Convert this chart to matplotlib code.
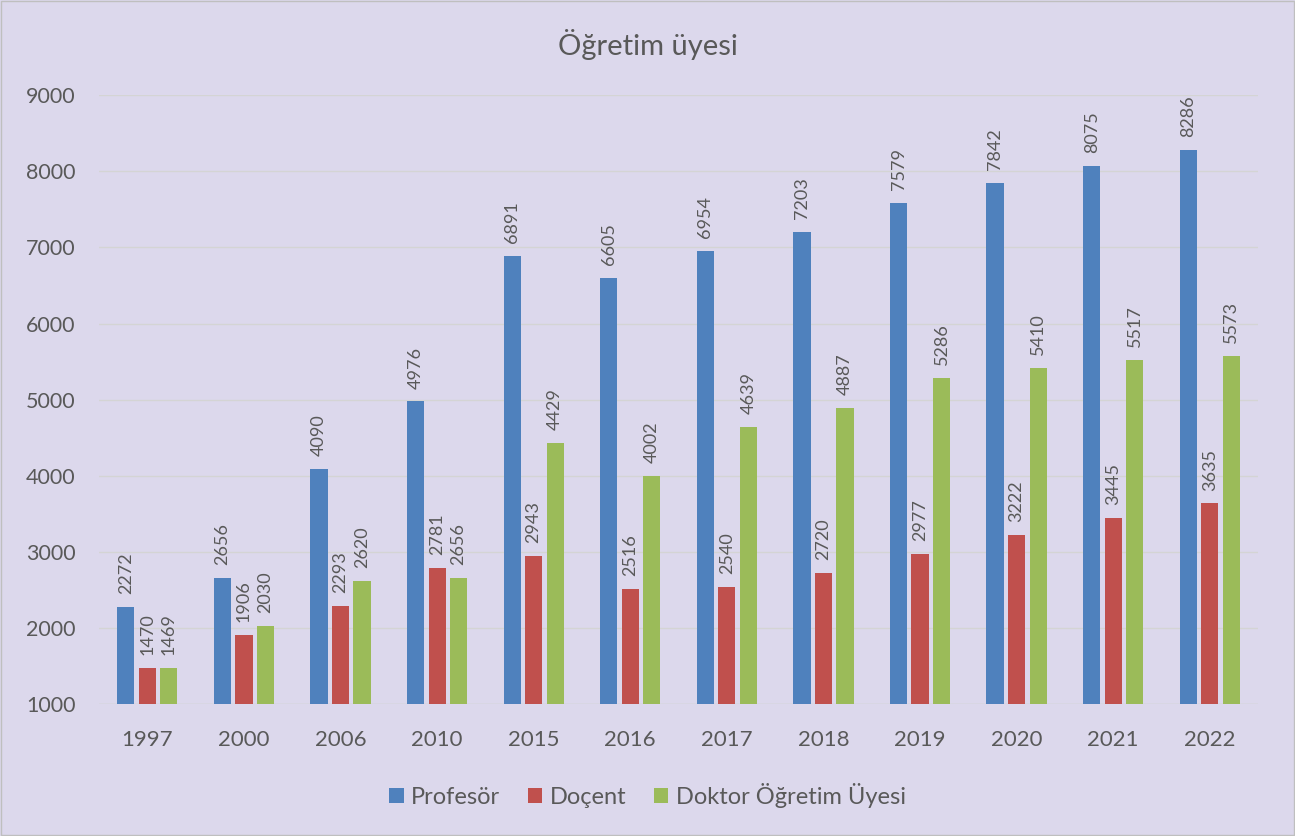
import matplotlib

matplotlib.use("Agg")
import matplotlib.pyplot as plt
import numpy as np
from matplotlib.patches import Patch, Rectangle

years = ["1997", "2000", "2006", "2010", "2015", "2016", "2017", "2018", "2019", "2020", "2021", "2022"]
profesor = [2272, 2656, 4090, 4976, 6891, 6605, 6954, 7203, 7579, 7842, 8075, 8286]
docent = [1470, 1906, 2293, 2781, 2943, 2516, 2540, 2720, 2977, 3222, 3445, 3635]
dr_ogr_uyesi = [1469, 2030, 2620, 2656, 4429, 4002, 4639, 4887, 5286, 5410, 5517, 5573]
series_names = ["Profesör", "Doçent", "Doktor Öğretim Üyesi"]

bg = "#DCD8EC"
text_color = "#595959"
colors = ["#4F81BD", "#C0504D", "#9BBB59"]

plt.rcParams["font.family"] = ["Lato", "DejaVu Sans"]

fig = plt.figure(figsize=(12.95, 8.36), dpi=100, facecolor=bg)
ax = fig.add_axes([0.0765, 0.158, 0.895, 0.728], facecolor=bg)

x = np.arange(len(years))
width = 0.178
step = 0.223
for i, (vals, col) in enumerate(zip([profesor, docent, dr_ogr_uyesi], colors)):
    pos = x + (i - 1) * step
    ax.bar(pos, np.array(vals) - 1000, width, bottom=1000, color=col, zorder=3)
    for px, v in zip(pos, vals):
        ax.text(px, v + 170, str(v), rotation=90, ha="center", va="bottom",
                fontsize=13, color=text_color)

ax.set_xlim(-0.5, len(years) - 0.5)
ax.set_ylim(1000, 9000)
ax.set_yticks(range(1000, 9001, 1000))
ax.set_xticks(x)
ax.set_xticklabels(years)
ax.tick_params(axis="both", length=0, labelsize=16, labelcolor=text_color)
ax.tick_params(axis="x", pad=19)
ax.tick_params(axis="y", pad=17, labelsize=15.5)
ax.grid(axis="y", color="#D4D4D4", linewidth=1, zorder=0)
for s in ax.spines.values():
    s.set_visible(False)
ax.axhline(1000, color="#D4D4D4", linewidth=1, zorder=2)

fig.text(0.5, 0.947, "Öğretim üyesi", ha="center", va="center", fontsize=21, color=text_color)

handles = [Patch(facecolor=c, label=n) for c, n in zip(colors, series_names)]
fig.legend(handles=handles, loc="center", bbox_to_anchor=(0.50, 0.049), ncol=3, frameon=False,
           fontsize=17, labelcolor=text_color, handlelength=0.6, handleheight=0.6,
           handletextpad=0.3, columnspacing=1.2)

fig.add_artist(Rectangle((0.001, 0.001), 0.998, 0.998, transform=fig.transFigure,
                         fill=False, edgecolor="#BFBFBF", linewidth=1))

fig.savefig("out.png", dpi=100, facecolor=bg)
